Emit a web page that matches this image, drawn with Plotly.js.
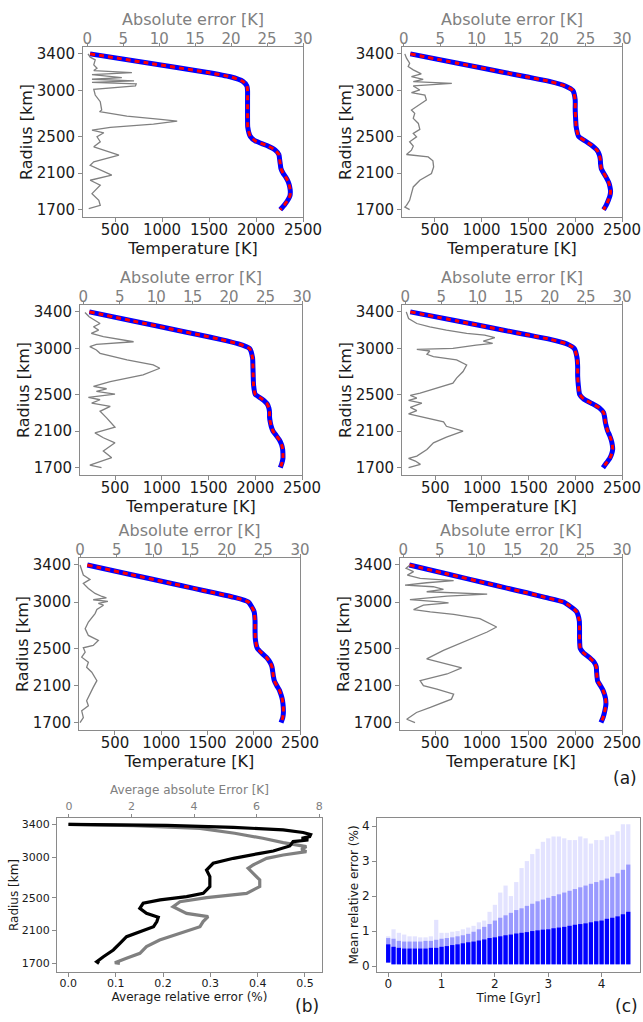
<!DOCTYPE html>
<html><head><meta charset="utf-8">
<script src="https://cdn.plot.ly/plotly-3.0.1.min.js"></script>
<style>html,body{margin:0;padding:0;background:#fff}#chart{width:643px;height:1022px}</style>
</head><body><div id="chart"></div>
<script>
// ---------------- DATA ----------------
const radiusTicks = [1700, 2100, 2500, 3000, 3400];
const tempTicks = [500, 1000, 1500, 2000, 2500];
const absErrTicks = [0, 5, 10, 15, 20, 25, 30];

// Temperature profiles (K) on a common radius grid (km)
const radiusGrid = [3400,3300,3200,3150,3100,3050,3000,2900,2800,2700,2600,2500,2450,2400,2350,2300,2250,2200,2150,2100,2050,2000,1950,1900,1850,1800,1750,1700];
const temp1 = [234,852,1470,1725,1860,1903,1910,1910,1910,1910,1912,1939,1992,2116,2205,2244,2251,2258,2265,2287,2319,2344,2358,2365,2361,2336,2301,2258];
const temp2 = [239,732,1229,1478,1725,1893,1975,2000,2000,2004,2011,2036,2107,2178,2232,2257,2268,2271,2278,2303,2332,2357,2371,2378,2371,2353,2332,2303];
const temp3 = [225,693,1164,1396,1625,1821,1939,1971,1975,1978,1982,2000,2071,2125,2146,2153,2153,2160,2171,2189,2225,2260,2282,2293,2296,2296,2285,2268];
const temp4 = [232,736,1232,1482,1732,1911,1989,2018,2025,2025,2032,2046,2089,2178,2260,2303,2314,2321,2332,2346,2368,2385,2396,2400,2389,2368,2332,2296];
const temp5 = [201,655,1113,1340,1570,1790,1942,2003,2014,2014,2017,2039,2086,2140,2176,2197,2205,2212,2223,2248,2277,2295,2309,2316,2320,2320,2313,2295];
const temp6 = [225,643,1061,1268,1482,1678,1875,2011,2043,2046,2046,2053,2089,2153,2203,2225,2228,2232,2239,2268,2296,2314,2325,2328,2321,2310,2296,2275];

// Absolute error profiles (K) with their radii (km)
const err1R = [3400,3364,3334,3280,3243,3218,3196,3174,3141,3123,3105,3090,3072,3050,3013,2951,2878,2787,2769,2721,2685,2667,2634,2597,2568,2539,2495,2441,2386,2295,2222,2185,2076,2021,1966,1875,1802,1747,1711];
const err1  = [0.1,0.4,1.1,0.9,1.35,0.9,6.2,0.65,4.8,0.65,6.5,0.65,6.8,6.7,0.9,1.1,1.8,2.0,1.7,5.5,10.2,12.5,9.2,3.2,0.65,2.3,1.35,1.8,0.9,4.4,0.9,0.4,3.4,0.4,1.8,0.65,1.6,1.8,0.2];
const err2R = [3400,3353,3298,3261,3225,3181,3152,3123,3097,3079,3050,3006,2977,2951,2897,2842,2787,2751,2696,2641,2576,2532,2495,2441,2393,2349,2302,2276,2233,2167,2094,2021,1948,1875,1802,1747,1729,1700];
const err2  = [0.14,0.37,0.8,0.6,1.3,2.4,1.05,2.66,1.3,6.6,1.3,2.2,1.05,2.9,3.1,2.0,1.05,1.5,1.3,2.0,2.2,1.3,1.75,0.8,1.3,1.05,0.37,3.35,4.0,4.1,3.8,2.2,1.3,1.05,0.8,0.37,0.14,0.8];
const err3R = [3393,3346,3273,3237,3201,3165,3129,3074,3046,3020,2984,2948,2876,2821,2785,2713,2640,2586,2561,2532,2503,2467,2441,2405,2369,2315,2243,2141,2080,2026,1971,1881,1809,1729,1700];
const err3  = [0.23,0.8,2.3,1.4,2.1,1.1,2.75,6.9,1.8,0.9,1.8,2.3,6.0,9.6,10.5,8.2,3.7,1.4,3.2,1.8,4.35,0.7,2.3,1.15,3.7,2.3,3.2,4.35,1.6,2.75,4.35,2.75,3.9,0.9,2.5];
const err4R = [3400,3328,3273,3237,3201,3165,3147,3118,3082,3056,3038,3002,2991,2973,2937,2912,2876,2821,2749,2677,2622,2568,2514,2489,2460,2434,2405,2358,2322,2286,2243,2199,2152,2098,2033,1971,1899,1827,1801,1772,1736,1700];
const err4  = [0.14,0.46,1.6,3.4,5.7,8.5,11.0,12.4,10.8,12.1,9.8,6.6,1.6,3.4,3.0,3.9,7.1,8.5,8.0,7.1,6.6,4.35,2.06,0.7,1.6,0.46,2.3,0.7,1.6,0.46,3.0,5.3,5.7,8.0,5.7,3.9,3.0,1.6,0.46,1.4,2.1,0.46];
const err5R = [3400,3346,3291,3244,3201,3147,3093,3060,3045,3025,3008,2985,2966,2919,2876,2785,2713,2640,2586,2532,2507,2460,2405,2351,2297,2243,2152,2080,2007,1935,1881,1827,1754,1700];
const err5  = [0,0.23,0.45,1.36,0.45,1.14,2.05,3.0,3.6,1.8,3.8,2.5,3.2,2.3,2.05,1.14,0.7,1.14,2.5,1.8,0.45,0.7,0.23,1.14,0.9,1.6,2.3,1.8,1.36,0.9,1.14,0.23,0.45,0];
const err6R = [3400,3364,3328,3291,3255,3230,3208,3183,3165,3136,3111,3085,3064,3027,3002,2991,2966,2919,2894,2868,2821,2731,2677,2586,2478,2387,2333,2290,2224,2152,2098,2062,2007,1953,1863,1809,1736,1700];
const err6  = [0.9,0.37,1.4,0.55,2.3,6.9,3.2,0.23,4.1,5.5,3.2,11.5,6.0,0.9,5.0,6.2,2.75,1.4,3.7,6.9,10.5,12.8,11.5,8.7,5.5,3.2,6.0,8.0,6.0,2.3,2.75,4.6,6.9,6.6,3.7,1.8,0.46,1.6];

// Panel (b): average errors
const avgRelR = [3400,3388,3363,3331,3300,3275,3249,3229,3208,3188,3135,3106,3074,3045,2984,2923,2841,2760,2638,2556,2515,2475,2434,2373,2311,2263,2210,2148,2087,2026,1944,1863,1781,1720,1700];
const avgRel  = [0.0,0.208,0.349,0.454,0.496,0.512,0.51,0.493,0.507,0.475,0.468,0.451,0.433,0.405,0.349,0.306,0.292,0.299,0.299,0.285,0.25,0.194,0.158,0.151,0.165,0.19,0.187,0.18,0.151,0.123,0.109,0.095,0.074,0.06,0.065];
const avgAbsR = [3400,3384,3351,3290,3229,3176,3127,3094,3066,3025,2984,2903,2862,2801,2719,2638,2556,2503,2454,2393,2311,2271,2210,2148,2067,1985,1904,1822,1761,1708,1700];
const avgAbs  = [0.0,2.06,4.19,5.3,6.2,6.85,7.59,7.43,7.59,6.85,6.32,5.89,5.73,5.89,6.1,6.1,5.68,4.4,3.55,3.33,3.76,4.45,4.29,4.19,3.55,2.9,2.48,2.27,1.84,1.47,1.63];
const relTicks = [0, 0.1, 0.2, 0.3, 0.4, 0.5];
const avgAbsTicks = [0, 2, 4, 6, 8];

// Panel (c): mean relative error vs time, per time column
const colTime   = [0.0,0.1,0.2,0.3,0.4,0.5,0.6,0.7,0.8,0.9,1.0,1.1,1.2,1.3,1.4,1.5,1.6,1.7,1.8,1.9,2.0,2.1,2.2,2.3,2.4,2.5,2.6,2.7,2.8,2.9,3.0,3.1,3.2,3.3,3.4,3.5,3.6,3.7,3.8,3.9,4.0,4.1,4.2,4.3,4.4,4.5];
const colMin    = [0.1,0.05,0.05,0.05,0.05,0.05,0.05,0.05,0.05,0.05,0.05,0.05,0.05,0.05,0.05,0.05,0.05,0.05,0.05,0.05,0.05,0.05,0.05,0.05,0.05,0.05,0.05,0.05,0.05,0.05,0.05,0.05,0.05,0.05,0.05,0.05,0.05,0.05,0.05,0.05,0.05,0.05,0.05,0.05,0.05,0.05];
const colDense  = [0.62,0.55,0.52,0.5,0.5,0.5,0.5,0.5,0.52,0.52,0.55,0.57,0.6,0.62,0.65,0.68,0.7,0.73,0.76,0.8,0.82,0.85,0.88,0.9,0.93,0.95,0.97,1.0,1.02,1.04,1.05,1.08,1.1,1.12,1.15,1.18,1.2,1.22,1.25,1.28,1.3,1.35,1.38,1.42,1.48,1.55];
const colMid    = [0.8,0.78,0.72,0.7,0.7,0.7,0.7,0.72,0.72,0.75,0.78,0.8,0.82,0.85,0.88,0.92,0.98,1.05,1.12,1.2,1.3,1.38,1.45,1.52,1.6,1.65,1.72,1.78,1.85,1.9,1.95,2.0,2.05,2.1,2.15,2.2,2.25,2.3,2.35,2.4,2.45,2.5,2.55,2.65,2.75,2.9];
const colMax    = [0.85,1.05,0.95,0.9,0.85,0.85,0.82,0.82,0.85,1.32,0.95,0.95,0.98,1.0,1.05,1.1,1.15,1.25,1.3,1.55,1.75,2.1,2.3,2.0,2.4,2.8,3.0,3.2,3.35,3.55,3.65,3.7,3.7,3.65,3.6,3.6,3.7,3.65,3.5,3.6,3.6,3.7,3.75,3.85,4.05,4.05];
const timeTicks = [0, 1, 2, 3, 4];
const mreTicks = [0, 1, 2, 3, 4];

// ---------------- LAYOUT ----------------
const W = 643, H = 1022;
const FONT = 'DejaVu Sans, Verdana, sans-serif';
const FRAME = '#8a8a8a';
const GRAY = '#808080';
const INK = '#1a1a1a';
const xd = (l, r) => [l / W, r / W];
const yd = (t, b) => [1 - b / H, 1 - t / H];
const ax = n => (n === 1 ? '' : String(n));

const temps = [temp1, temp2, temp3, temp4, temp5, temp6];
const errRs = [err1R, err2R, err3R, err4R, err5R, err6R];
const errs = [err1, err2, err3, err4, err5, err6];

const panels = [
  {l: 83,  r: 303, t: 47,  b: 217, tmin: 159, emin: -0.6},
  {l: 402, r: 622, t: 47,  b: 217, tmin: 150, emin: -0.25},
  {l: 80,  r: 302, t: 305, b: 475, tmin: 125, emin: -0.45},
  {l: 402, r: 622, t: 305, b: 475, tmin: 143, emin: -0.45},
  {l: 79,  r: 300, t: 558, b: 730, tmin: 111, emin: -0.14},
  {l: 400, r: 622, t: 558, b: 730, tmin: 125, emin: -0.46}
];

const traces = [];
const layout = {
  width: W, height: H,
  margin: {l: 0, r: 0, t: 0, b: 0},
  paper_bgcolor: '#fff', plot_bgcolor: 'rgba(0,0,0,0)',
  showlegend: false,
  font: {family: FONT, color: INK},
  barmode: 'overlay',
  annotations: []
};

const baseAxis = (fs) => ({
  showgrid: false, zeroline: false, automargin: false,
  ticks: 'outside', ticklen: 4, tickwidth: 1, tickcolor: FRAME,
  tickfont: {family: FONT, size: fs, color: INK}
});

panels.forEach((p, i) => {
  const xb = 2 * i + 1, xt = 2 * i + 2, yi = i + 1;
  traces.push({type: 'scatter', mode: 'lines', x: errs[i], y: errRs[i],
    xaxis: 'x' + ax(xt), yaxis: 'y' + ax(yi), line: {color: GRAY, width: 1.3}, hoverinfo: 'skip'});
  traces.push({type: 'scatter', mode: 'lines', x: temps[i], y: radiusGrid,
    xaxis: 'x' + ax(xb), yaxis: 'y' + ax(yi), line: {color: '#0000ff', width: 5, shape: 'spline', smoothing: 0.5}, hoverinfo: 'skip'});
  traces.push({type: 'scatter', mode: 'lines', x: temps[i], y: radiusGrid,
    xaxis: 'x' + ax(xb), yaxis: 'y' + ax(yi), line: {color: '#ff0000', width: 3, dash: '5px,4px', shape: 'spline', smoothing: 0.5}, hoverinfo: 'skip'});

  layout['xaxis' + ax(xb)] = Object.assign(baseAxis(15), {
    domain: xd(p.l, p.r), anchor: 'y' + ax(yi), range: [p.tmin, 2500],
    tickvals: tempTicks, showline: true, mirror: true, linecolor: FRAME, linewidth: 1,
    ticklabelstandoff: -5,
    title: {text: 'Temperature [K]', font: {family: FONT, size: 16, color: INK}, standoff: 0}
  });
  layout['xaxis' + ax(xt)] = Object.assign(baseAxis(15), {
    domain: xd(p.l, p.r), anchor: 'y' + ax(yi), overlaying: 'x' + ax(xb), side: 'top',
    range: [p.emin, 30], tickvals: absErrTicks, showline: false, ticklen: 3,
    ticklabelstandoff: -7,
    tickfont: {family: FONT, size: 15, color: GRAY},
    title: {text: 'Absolute error [K]', font: {family: FONT, size: 16, color: GRAY}, standoff: 0}
  });
  layout['yaxis' + ax(yi)] = Object.assign(baseAxis(15), {
    domain: yd(p.t, p.b), anchor: 'x' + ax(xb), range: [1620, 3475],
    tickvals: radiusTicks, showline: true, mirror: true, linecolor: FRAME, linewidth: 1,
    title: {text: 'Radius [km]', font: {family: FONT, size: 16, color: INK}, standoff: 0}
  });
});

// Panel (b): x13 = top (absolute, base), x14 = bottom (relative, overlaying)
traces.push({type: 'scatter', mode: 'lines', x: avgAbs, y: avgAbsR, xaxis: 'x13', yaxis: 'y7',
  line: {color: GRAY, width: 3.2}, hoverinfo: 'skip'});
traces.push({type: 'scatter', mode: 'lines', x: avgRel, y: avgRelR, xaxis: 'x14', yaxis: 'y7',
  line: {color: '#000000', width: 3.2}, hoverinfo: 'skip'});
layout.xaxis13 = Object.assign(baseAxis(11), {
  domain: xd(57, 322), anchor: 'y7', side: 'top', range: [-0.38, 8.09], tickvals: avgAbsTicks,
  showline: false, ticklen: 3, tickfont: {family: FONT, size: 11, color: GRAY},
  title: {text: 'Average absolute Error [K]', font: {family: FONT, size: 12, color: GRAY}, standoff: 2}
});
layout.xaxis14 = Object.assign(baseAxis(11), {
  domain: xd(57, 322), anchor: 'y7', overlaying: 'x13', side: 'bottom', range: [-0.024, 0.536],
  tickvals: relTicks, tickformat: '.1f', showline: true, mirror: true, linecolor: FRAME, linewidth: 1,
  ticklabelstandoff: -3,
  title: {text: 'Average relative error (%)', font: {family: FONT, size: 12, color: INK}, standoff: 0}
});
layout.yaxis7 = Object.assign(baseAxis(11), {
  domain: yd(818, 972), anchor: 'x14', range: [1594, 3477], tickvals: radiusTicks,
  showline: true, mirror: true, linecolor: FRAME, linewidth: 1,
  title: {text: 'Radius [km]', font: {family: FONT, size: 12, color: INK}, standoff: 0}
});

// Panel (c): layered columns
const heights = (top) => top.map((v, k) => v - colMin[k]);
[[colMax, 'rgba(0,0,255,0.11)'], [colMid, 'rgba(0,0,255,0.32)'], [colDense, 'rgba(0,0,255,1)']].forEach(([top, col]) => {
  traces.push({type: 'bar', x: colTime, y: heights(top), base: colMin, width: 0.08,
    xaxis: 'x15', yaxis: 'y8', marker: {color: col, line: {width: 0}}, hoverinfo: 'skip'});
});
layout.xaxis15 = Object.assign(baseAxis(12), {
  domain: xd(377, 640), anchor: 'y8', range: [-0.21, 4.72], tickvals: timeTicks,
  showline: true, mirror: true, linecolor: FRAME, linewidth: 1,
  ticklabelstandoff: -3,
  title: {text: 'Time [Gyr]', font: {family: FONT, size: 12, color: INK}, standoff: 0}
});
layout.yaxis8 = Object.assign(baseAxis(12), {
  domain: yd(818, 972), anchor: 'x15', range: [-0.17, 4.23], tickvals: mreTicks,
  showline: true, mirror: true, linecolor: FRAME, linewidth: 1,
  title: {text: 'Mean relative error (%)', font: {family: FONT, size: 12, color: INK}, standoff: 0}
});

// Panel labels
[['(a)', 625, 778], ['(b)', 307, 1006], ['(c)', 626, 1006]].forEach(([t, px, py]) => {
  layout.annotations.push({text: t, xref: 'paper', yref: 'paper', x: px / W, y: 1 - py / H,
    xanchor: 'center', yanchor: 'middle', showarrow: false, font: {family: FONT, size: 17, color: INK}});
});

Plotly.newPlot('chart', traces, layout, {staticPlot: true, displayModeBar: false});
</script>
</body></html>
